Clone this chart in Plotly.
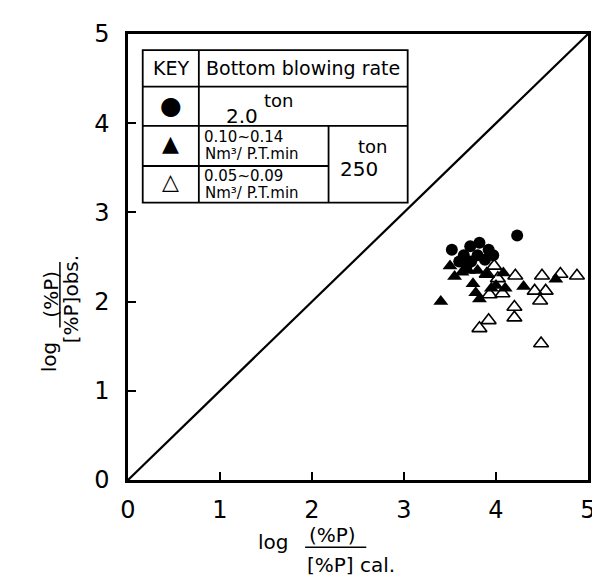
import plotly.graph_objects as go

# axis ticks
tick_vals = [0, 1, 2, 3, 4, 5]
tick_text = ["0", "1", "2", "3", "4", "5"]

# bottom blowing 2.0 ton (filled circles)
circle_x = [3.52, 3.60, 3.65, 3.72, 3.73, 3.80, 3.82, 3.88, 3.92, 3.97, 3.68, 4.23]
circle_y = [2.58, 2.45, 2.52, 2.62, 2.45, 2.52, 2.66, 2.47, 2.58, 2.52, 2.40, 2.74]

# 250 ton, 0.10~0.14 Nm3/P.T.min (filled triangles)
filled_x = [3.40, 3.50, 3.55, 3.63, 3.70, 3.75, 3.80, 3.82, 3.90, 3.95, 4.00, 4.08, 4.10, 4.30, 4.65, 3.78]
filled_y = [2.00, 2.40, 2.28, 2.33, 2.35, 2.20, 2.35, 2.03, 2.30, 2.15, 2.18, 2.32, 2.15, 2.17, 2.25, 2.10]

# 250 ton, 0.05~0.09 Nm3/P.T.min (open triangles)
open_x = [3.82, 3.92, 3.90, 3.93, 3.98, 4.07, 4.20, 4.20, 4.21, 4.42, 4.48, 4.49, 4.50, 4.54, 4.70, 4.88, 4.02]
open_y = [1.70, 1.79, 2.31, 2.08, 2.40, 2.09, 1.94, 1.82, 2.29, 2.12, 2.01, 1.53, 2.29, 2.12, 2.31, 2.29, 2.26]

# line of equality
diag = [0, 5]

FONT = "DejaVu Sans"

fig = go.Figure()
fig.add_trace(go.Scatter(x=diag, y=diag, mode="lines",
                         line=dict(color="black", width=2.2), hoverinfo="skip"))
fig.add_trace(go.Scatter(x=circle_x, y=circle_y, mode="markers",
                         marker=dict(symbol="circle", size=12, color="black")))
fig.add_trace(go.Scatter(x=filled_x, y=filled_y, mode="markers",
                         marker=dict(symbol="triangle-up", size=13, color="black")))
fig.add_trace(go.Scatter(x=open_x, y=open_y, mode="markers",
                         marker=dict(symbol="triangle-up-open", size=13, color="black",
                                     line=dict(width=1.6, color="black"))))

axis_style = dict(range=[0, 5], tickvals=tick_vals, ticktext=tick_text,
                  ticks="inside", ticklen=8, tickwidth=1.5, tickcolor="black",
                  showline=True, linewidth=2.5, linecolor="black", mirror=True,
                  showgrid=False, zeroline=False,
                  tickfont=dict(family=FONT, size=24, color="black"))

fig.update_layout(
    width=600, height=579,
    margin=dict(l=120, r=13, t=22, b=107),
    plot_bgcolor="white", paper_bgcolor="white",
    showlegend=False,
    xaxis=dict(**axis_style, ticklabelstandoff=6),
    yaxis=dict(**axis_style, ticklabelstandoff=11),
)

# key table
tl = dict(color="black", width=1.8)
fig.add_shape(type="rect", x0=0.16, x1=3.04, y0=3.11, y1=4.82, line=tl)
fig.add_shape(type="line", x0=0.16, x1=3.04, y0=4.41, y1=4.41, line=tl)
fig.add_shape(type="line", x0=0.16, x1=3.04, y0=3.97, y1=3.97, line=tl)
fig.add_shape(type="line", x0=0.16, x1=2.18, y0=3.52, y1=3.52, line=tl)
fig.add_shape(type="line", x0=0.77, x1=0.77, y0=3.11, y1=4.82, line=tl)
fig.add_shape(type="line", x0=2.18, x1=2.18, y0=3.11, y1=3.97, line=tl)


def note(text, x, y, size, xanchor="center", ref="data", angle=0, yanchor="middle"):
    xr, yr = ("x", "y") if ref == "data" else ("paper", "paper")
    fig.add_annotation(text=text, x=x, y=y, xref=xr, yref=yr, showarrow=False,
                       xanchor=xanchor, yanchor=yanchor, textangle=angle,
                       font=dict(family=FONT, size=size, color="black"))


note("KEY", 0.465, 4.615, 19)
note("Bottom blowing rate", 1.905, 4.615, 19)
note("●", 0.465, 4.20, 25)
note("▲", 0.465, 3.77, 22)
note("△", 0.465, 3.35, 22)
note("2.0", 1.24, 4.08, 20)
note("ton", 1.64, 4.26, 18)
note("0.10~0.14", 0.80, 3.85, 15, xanchor="left")
note("Nm³/ P.T.min", 0.82, 3.655, 15, xanchor="left")
note("0.05~0.09", 0.80, 3.41, 15, xanchor="left")
note("Nm³/ P.T.min", 0.82, 3.215, 15, xanchor="left")
note("ton", 2.66, 3.74, 18)
note("250", 2.51, 3.49, 20)

# x title
note("log", 0.317, -0.138, 20, ref="paper")
note("(%P)", 0.39, -0.124, 20, xanchor="left", ref="paper")
note("[%P] cal.", 0.385, -0.222, 20, xanchor="left", yanchor="bottom", ref="paper")
fig.add_shape(type="line", xref="paper", yref="paper", x0=0.385, x1=0.518,
              y0=-0.151, y1=-0.151, line=dict(color="black", width=1.5))

# y title
note("log", -0.171, 0.276, 20, ref="paper", angle=-90)
note("(%P)", -0.167, 0.416, 20, ref="paper", angle=-90)
note("[%P]obs.", -0.124, 0.302, 20, ref="paper", angle=-90, yanchor="bottom")
fig.add_shape(type="line", xref="paper", yref="paper", x0=-0.148, x1=-0.148,
              y0=0.342, y1=0.489, line=dict(color="black", width=1.5))

fig.write_html("out.html")
